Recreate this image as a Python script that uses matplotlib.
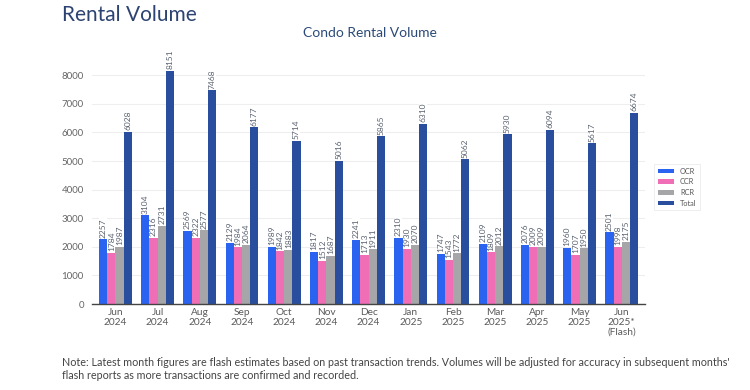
import matplotlib.pyplot as plt
import numpy as np

plt.rcParams['font.family'] = ['Lato', 'DejaVu Sans']

# data
months = ['Jun\n2024', 'Jul\n2024', 'Aug\n2024', 'Sep\n2024', 'Oct\n2024', 'Nov\n2024',
          'Dec\n2024', 'Jan\n2025', 'Feb\n2025', 'Mar\n2025', 'Apr\n2025', 'May\n2025',
          'Jun\n2025*\n(Flash)']
ocr = [2257, 3104, 2569, 2129, 1989, 1817, 2241, 2310, 1747, 2109, 2076, 1960, 2501]
ccr = [1784, 2316, 2322, 1984, 1842, 1512, 1713, 1930, 1543, 1809, 2009, 1707, 1998]
rcr = [1987, 2731, 2577, 2064, 1883, 1687, 1911, 2070, 1772, 2012, 2009, 1950, 2175]
total = [6028, 8151, 7468, 6177, 5714, 5016, 5865, 6310, 5062, 5930, 6094, 5617, 6674]

series = [('OCR', ocr, '#2a63f0'), ('CCR', ccr, '#f06eb5'),
          ('RCR', rcr, '#a6a6a8'), ('Total', total, '#2a4e9e')]

fig = plt.figure(figsize=(7.5, 3.9), dpi=100)
ax = fig.add_axes([0.123, 0.2205, 0.737, 0.638])

x = np.arange(len(months))
w = 0.195
for i, (name, vals, col) in enumerate(series):
    pos = x + (i - 1.5) * w
    ax.bar(pos, vals, w, color=col, label=name, zorder=2)
    for p, v in zip(pos, vals):
        ax.text(p, v + 60, str(v), rotation=90, ha='center', va='bottom',
                fontsize=6, color='#5a6270', zorder=3,
                bbox=dict(facecolor='white', edgecolor='none', pad=0.3))

ax.set_xlim(-0.55, len(months) - 0.45)
ax.set_ylim(0, 8700)
ax.set_yticks(range(0, 8001, 1000))
ax.set_xticks(x)
ax.set_xticklabels(months, fontsize=7.3, color='#5a5a5a', linespacing=1.1)
ax.tick_params(axis='y', labelsize=7, colors='#666666', length=0, pad=6)
ax.tick_params(axis='x', length=0, pad=3)
ax.grid(axis='y', color='#eeeeee', linewidth=0.8, zorder=0)
for s in ['top', 'right', 'left']:
    ax.spines[s].set_visible(False)
ax.spines['bottom'].set_color('#444444')
ax.spines['bottom'].set_linewidth(1)

leg = ax.legend(loc='center left', bbox_to_anchor=(1.01, 0.47), fontsize=5.3,
                frameon=True, handlelength=2.2, handleheight=0.6,
                borderpad=0.5, labelspacing=0.5, fancybox=False)
leg.get_frame().set_edgecolor('#e6e6e6')
leg.get_frame().set_linewidth(0.6)
for t in leg.get_texts():
    t.set_color('#555555')

fig.text(62 / 750, 1 - 15 / 390, 'Rental Volume', fontsize=15, color='#2c4372',
         ha='left', va='center')
fig.text(370 / 750, 1 - 33 / 390, 'Condo Rental Volume', fontsize=10, color='#2c4a78',
         ha='center', va='center')
fig.text(62 / 750, 1 - 369 / 390,
         "Note: Latest month figures are flash estimates based on past transaction trends. "
         "Volumes will be adjusted for accuracy in subsequent months'\n"
         "flash reports as more transactions are confirmed and recorded.",
         fontsize=7.75, color='#444444', ha='left', va='center', linespacing=1.2)

fig.savefig('out.png', dpi=100)
